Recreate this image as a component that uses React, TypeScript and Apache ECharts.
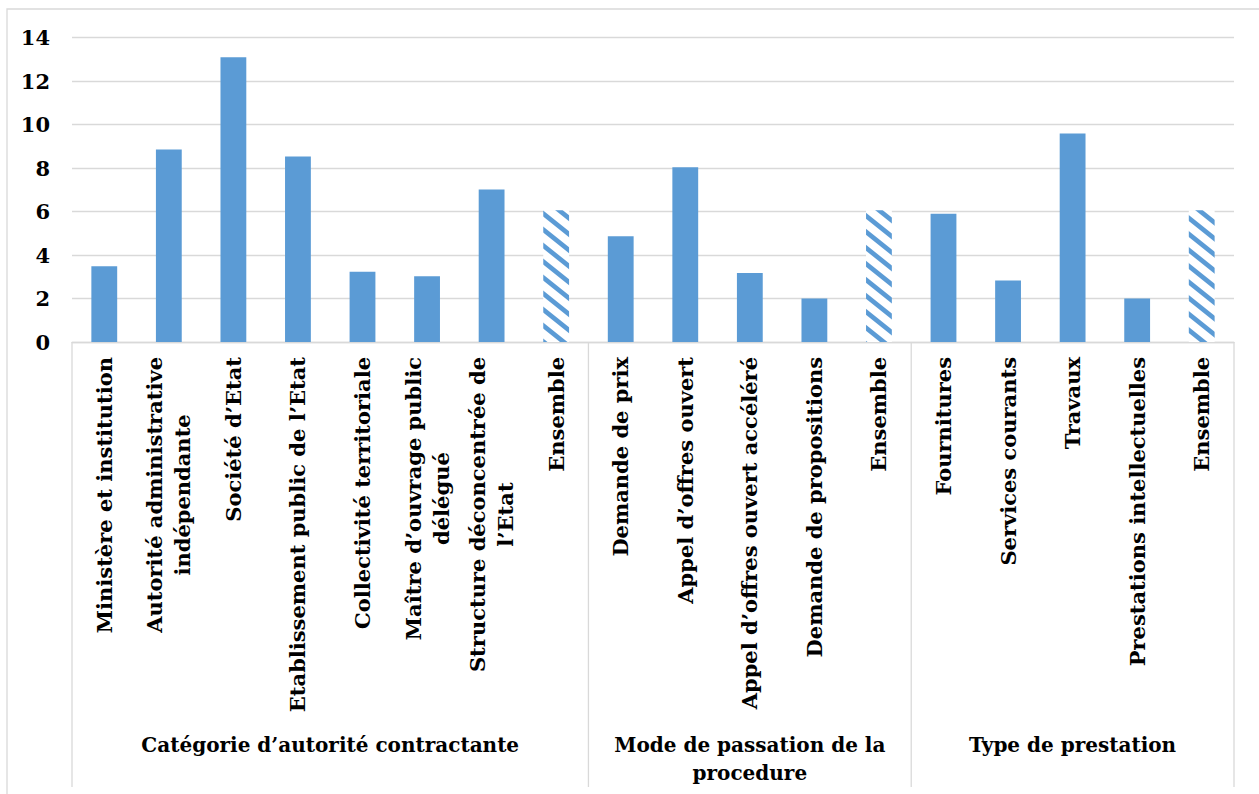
import React, { useEffect, useRef } from "react";
import * as echarts from "echarts";

const categories: string[] = [
  "Ministère et institution",
  "Autorité administrative\nindépendante",
  "Société d’Etat",
  "Etablissement public de l’Etat",
  "Collectivité territoriale",
  "Maître d’ouvrage public\ndélégué",
  "Structure déconcentrée de\nl’Etat",
  "Ensemble",
  "Demande de prix",
  "Appel d’offres ouvert",
  "Appel d’offres ouvert accéléré",
  "Demande de propositions",
  "Ensemble",
  "Fournitures",
  "Services courants",
  "Travaux",
  "Prestations intellectuelles",
  "Ensemble",
];

const values: number[] = [
  3.48, 8.85, 13.09, 8.53, 3.23, 3.02, 7.01, 6.06,
  4.86, 8.04, 3.17, 2.0, 6.06,
  5.9, 2.83, 9.59, 2.0, 6.06,
];

const isEnsemble: boolean[] = [
  false, false, false, false, false, false, false, true,
  false, false, false, false, true,
  false, false, false, false, true,
];

const groupNames: string[] = [
  "Catégorie d’autorité contractante",
  "Mode de passation de la\nprocedure",
  "Type de prestation",
];
const groupSizes: number[] = [8, 5, 5];

const yMin = 0;
const yMax = 14;
const yInterval = 2;

const FONT = "DejaVu Serif";
const BLUE = "#5b9bd5";
const GRID = "#d9d9d9";

function makeHatch(): HTMLCanvasElement {
  const W = 20;
  const H = 16;
  const t = 6;
  const cv = document.createElement("canvas");
  cv.width = W;
  cv.height = H;
  const ctx = cv.getContext("2d")!;
  ctx.fillStyle = "#ffffff";
  ctx.fillRect(0, 0, W, H);
  ctx.fillStyle = BLUE;
  for (let k = -2; k <= 2; k++) {
    ctx.beginPath();
    ctx.moveTo(0, k * H);
    ctx.lineTo(W, k * H + H);
    ctx.lineTo(W, k * H + H + t);
    ctx.lineTo(0, k * H + t);
    ctx.closePath();
    ctx.fill();
  }
  return cv;
}

export default function App() {
  const ref = useRef<HTMLDivElement>(null);

  useEffect(() => {
    if (!ref.current) return;
    const chart = echarts.init(ref.current, undefined, { renderer: "svg" });
    const hatch = makeHatch();

    const data = values.map((v, i) =>
      isEnsemble[i]
        ? {
            value: v,
            itemStyle: {
              color: { image: hatch, repeat: "repeat", imageWidth: 20, imageHeight: 16 },
            },
          }
        : { value: v }
    );

    chart.setOption({
      animation: false,
      grid: { left: 72, right: 25, top: 37.5, bottom: 452, containLabel: false },
      xAxis: {
        type: "category",
        data: categories.map((c, i) => String(i)),
        axisLine: { show: true, lineStyle: { color: GRID, width: 1.3 } },
        axisTick: { show: false },
        axisLabel: {
          interval: 0,
          rotate: 90,
          margin: 15,
          formatter: (v: string) =>
            categories[Number(v)]
              .split("\n")
              .map((l) => `{c|${l}}`)
              .join("\n"),
          rich: {
            c: {
              fontFamily: FONT,
              fontWeight: "bold",
              fontSize: 21,
              lineHeight: 28,
              color: "#000",
              align: "center",
            },
          },
        },
      },
      yAxis: {
        type: "value",
        min: yMin,
        max: yMax,
        interval: yInterval,
        axisLine: { show: false },
        axisTick: { show: false },
        splitLine: { lineStyle: { color: GRID, width: 1.3 } },
        axisLabel: {
          margin: 22,
          fontFamily: FONT,
          fontWeight: "bold",
          fontSize: 21,
          color: "#000",
        },
      },
      series: [
        {
          type: "bar",
          data,
          barWidth: "40%",
          itemStyle: { color: BLUE },
        },
      ],
    });

    const c0 = chart.convertToPixel({ xAxisIndex: 0 }, "0") as number;
    const c1 = chart.convertToPixel({ xAxisIndex: 0 }, "1") as number;
    const band = c1 - c0;
    const axisY = chart.convertToPixel({ yAxisIndex: 0 }, 0) as number;
    const boundaries: number[] = [];
    let idx = 0;
    boundaries.push(c0 - band / 2);
    groupSizes.forEach((s) => {
      idx += s;
      boundaries.push(c0 - band / 2 + idx * band);
    });
    const graphics: any[] = [
      {
        type: "rect",
        z: -10,
        shape: { x: 7, y: 9, width: 1400, height: 1000 },
        style: { fill: "none", stroke: GRID, lineWidth: 1.3 },
      },
    ];
    boundaries.forEach((bx) => {
      graphics.push({
        type: "line",
        shape: { x1: bx, y1: axisY, x2: bx, y2: 787 },
        style: { stroke: GRID, lineWidth: 1.3 },
      });
    });
    groupNames.forEach((g, i) => {
      graphics.push({
        type: "text",
        x: (boundaries[i] + boundaries[i + 1]) / 2,
        y: 731,
        style: {
          text: g,
          fontFamily: FONT,
          fontWeight: "bold",
          fontSize: 20,
          lineHeight: 28,
          align: "center",
          verticalAlign: "top",
          fill: "#000",
        },
      });
    });
    chart.setOption({ graphic: graphics });

    return () => chart.dispose();
  }, []);

  return (
    <div
      ref={ref}
      style={{ position: "fixed", left: 0, top: 0, width: 1259, height: 794, background: "#fff" }}
    />
  );
}
